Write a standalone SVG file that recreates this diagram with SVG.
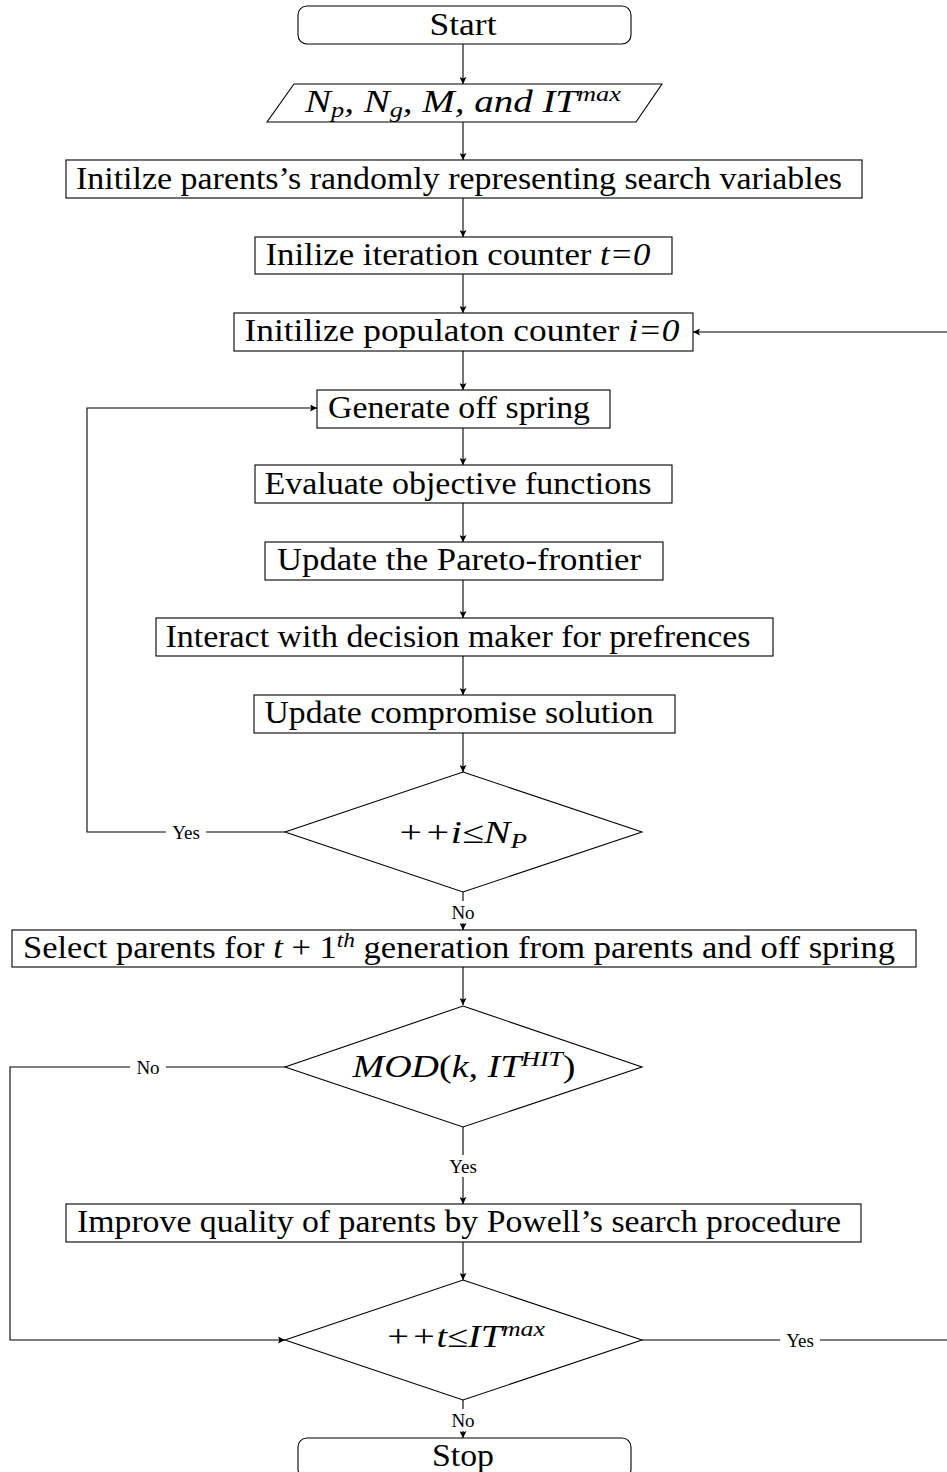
<svg xmlns="http://www.w3.org/2000/svg" width="947" height="1472" viewBox="0 0 947 1472">
<style>
.n{fill:#fff;stroke:#000;stroke-width:1.1}
.t{font-family:"Liberation Serif","DejaVu Serif",serif;font-size:31px;fill:#000;text-anchor:middle}
.i{font-style:italic}
.s{font-family:"Liberation Serif","DejaVu Serif",serif;font-size:19px;fill:#000;text-anchor:middle}
.c{fill:none;stroke:#000;stroke-width:1.1}
.lb{fill:#fff;stroke:none}
</style>
<defs>
<marker id="a" viewBox="0 0 10 10" refX="10" refY="5" markerWidth="7" markerHeight="7" markerUnits="userSpaceOnUse" orient="auto">
<path d="M0,0 L10,5 L0,10 L2,5 z" fill="#000"/>
</marker>
</defs>
<g id="connectors">
<line class="c" x1="463" y1="44" x2="463" y2="84" marker-end="url(#a)"/>
<line class="c" x1="463" y1="122" x2="463" y2="160" marker-end="url(#a)"/>
<line class="c" x1="463" y1="198" x2="463" y2="237" marker-end="url(#a)"/>
<line class="c" x1="463" y1="274" x2="463" y2="313" marker-end="url(#a)"/>
<line class="c" x1="463" y1="351" x2="463" y2="390" marker-end="url(#a)"/>
<line class="c" x1="463" y1="428" x2="463" y2="465" marker-end="url(#a)"/>
<line class="c" x1="463" y1="503" x2="463" y2="542" marker-end="url(#a)"/>
<line class="c" x1="463" y1="580" x2="463" y2="618" marker-end="url(#a)"/>
<line class="c" x1="463" y1="656" x2="463" y2="695" marker-end="url(#a)"/>
<line class="c" x1="463" y1="733" x2="463" y2="772" marker-end="url(#a)"/>
<polyline class="c" points="285,832 87,832 87,408 317,408" marker-end="url(#a)"/>
<line class="c" x1="463" y1="892" x2="463" y2="930" marker-end="url(#a)"/>
<line class="c" x1="463" y1="967" x2="463" y2="1005" marker-end="url(#a)"/>
<polyline class="c" points="285,1067 10,1067 10,1340 285,1340" marker-end="url(#a)"/>
<line class="c" x1="463" y1="1127" x2="463" y2="1204" marker-end="url(#a)"/>
<line class="c" x1="463" y1="1242" x2="463" y2="1280" marker-end="url(#a)"/>
<polyline class="c" points="642,1340 949,1340 949,332 693,332" marker-end="url(#a)"/>
<line class="c" x1="463" y1="1400" x2="463" y2="1438" marker-end="url(#a)"/>
<rect class="lb" x="166" y="821" width="40" height="22"/>
<text class="s" x="186" y="839">Yes</text>
<rect class="lb" x="447" y="901" width="32" height="22"/>
<text class="s" x="463" y="919">No</text>
<rect class="lb" x="130" y="1056" width="36" height="22"/>
<text class="s" x="148" y="1074">No</text>
<rect class="lb" x="443" y="1155" width="40" height="22"/>
<text class="s" x="463" y="1173">Yes</text>
<rect class="lb" x="780" y="1329" width="40" height="22"/>
<text class="s" x="800" y="1347">Yes</text>
<rect class="lb" x="447" y="1409" width="32" height="22"/>
<text class="s" x="463" y="1427">No</text>
</g>
<g id="start">
<rect class="n" x="298" y="6" width="333" height="38" rx="9"/>
<text class="t" x="463" y="35" textLength="67" lengthAdjust="spacingAndGlyphs">Start</text>
</g>
<g id="input">
<polygon class="n" points="294,84 662,84 636,122 267,122"/>
<text class="t i" x="463" y="112" textLength="316" lengthAdjust="spacingAndGlyphs">N<tspan font-size="21" dy="5">p</tspan><tspan dy="-5">, N</tspan><tspan font-size="21" dy="5">g</tspan><tspan dy="-5">, M, and IT</tspan><tspan font-size="21" dy="-11">max</tspan></text>
</g>
<g id="init-parents">
<rect class="n" x="66" y="160" width="796" height="38"/>
<text class="t" x="459" y="189" textLength="766" lengthAdjust="spacingAndGlyphs">Initilze parents’s randomly representing search variables</text>
</g>
<g id="init-t">
<rect class="n" x="255" y="237" width="417" height="37"/>
<text class="t" x="458" y="265" textLength="385" lengthAdjust="spacingAndGlyphs">Inilize iteration counter <tspan class="i">t=0</tspan></text>
</g>
<g id="init-i">
<rect class="n" x="234" y="313" width="459" height="38"/>
<text class="t" x="462" y="341" textLength="435" lengthAdjust="spacingAndGlyphs">Initilize populaton counter <tspan class="i">i=0</tspan></text>
</g>
<g id="generate">
<rect class="n" x="317" y="390" width="293" height="38"/>
<text class="t" x="459" y="418" textLength="262" lengthAdjust="spacingAndGlyphs">Generate off spring</text>
</g>
<g id="evaluate">
<rect class="n" x="255" y="465" width="417" height="38"/>
<text class="t" x="458" y="494" textLength="387" lengthAdjust="spacingAndGlyphs">Evaluate objective functions</text>
</g>
<g id="pareto">
<rect class="n" x="265" y="542" width="398" height="38"/>
<text class="t" x="459" y="570" textLength="364" lengthAdjust="spacingAndGlyphs">Update the Pareto-frontier</text>
</g>
<g id="interact">
<rect class="n" x="156" y="618" width="617" height="38"/>
<text class="t" x="458" y="647" textLength="585" lengthAdjust="spacingAndGlyphs">Interact with decision maker for prefrences</text>
</g>
<g id="compromise">
<rect class="n" x="254" y="695" width="421" height="38"/>
<text class="t" x="459" y="723" textLength="389" lengthAdjust="spacingAndGlyphs">Update compromise solution</text>
</g>
<g id="dec-i">
<polygon class="n" points="463,772 642,832 463,892 285,832"/>
<text class="t i" x="462" y="843" textLength="130" lengthAdjust="spacingAndGlyphs">++i≤N<tspan font-size="21" dy="5">P</tspan></text>
</g>
<g id="select">
<rect class="n" x="12" y="930" width="904" height="37"/>
<text class="t" x="459" y="958" textLength="872" lengthAdjust="spacingAndGlyphs">Select parents for <tspan class="i">t</tspan> + 1<tspan class="i" font-size="21" dy="-11">th</tspan><tspan dy="11"> generation from parents and off spring</tspan></text>
</g>
<g id="dec-mod">
<polygon class="n" points="463,1006 642,1067 463,1127 285,1067"/>
<text class="t i" x="464" y="1077" textLength="223" lengthAdjust="spacingAndGlyphs">MOD<tspan font-style="normal">(</tspan>k, IT<tspan font-size="21" dy="-11">HIT</tspan><tspan font-style="normal" dy="11">)</tspan></text>
</g>
<g id="improve">
<rect class="n" x="66" y="1204" width="795" height="38"/>
<text class="t" x="459" y="1232" textLength="764" lengthAdjust="spacingAndGlyphs">Improve quality of parents by Powell’s search procedure</text>
</g>
<g id="dec-t">
<polygon class="n" points="463,1280 642,1340 463,1400 285,1340"/>
<text class="t i" x="465" y="1347" textLength="160" lengthAdjust="spacingAndGlyphs">++t≤IT<tspan font-size="21" dy="-11">max</tspan></text>
</g>
<g id="stop">
<rect class="n" x="298" y="1438" width="333" height="40" rx="9"/>
<text class="t" x="463" y="1466" textLength="62" lengthAdjust="spacingAndGlyphs">Stop</text>
</g>
</svg>
